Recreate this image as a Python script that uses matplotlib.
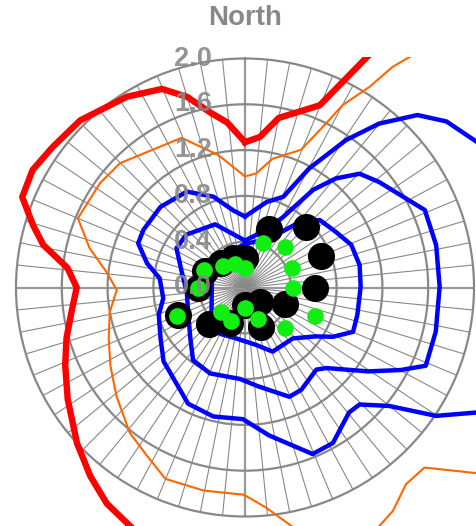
import numpy as np
import matplotlib
matplotlib.use("Agg")
import matplotlib.pyplot as plt
from matplotlib.patches import Rectangle

plt.rcParams['font.family'] = ['Liberation Sans', 'DejaVu Sans']

# ---- data: direction (degrees clockwise from North) and value ----
red_theta = [0, 5.6, 11.25, 22.3, 30, 45, 90, 135, 180, 202.5, 212.6, 219.4, 227.2,
             237.8, 246.7, 254.2, 262, 270, 276.3, 281.9, 286.4, 292.1, 299, 306.2,
             315.4, 328.2, 337.3, 343.1, 348.7, 353.8, 360]
red_value = [1.27, 1.32, 1.51, 1.72, 2.6, 3.0, 3.0, 3.0, 3.0, 2.36, 2.24, 2.13, 2.00,
             1.83, 1.71, 1.62, 1.53, 1.47, 1.56, 1.80, 1.93, 2.10, 2.12, 2.08,
             2.05, 1.96, 1.88, 1.74, 1.56, 1.45, 1.27]

orange_theta = [0, 5.5, 12.1, 22.2, 26.3, 28.2, 31.8, 33.8, 40, 90, 127.4, 135.1, 140.7,
                146.5, 154.4, 166.2, 174.6, 180.3, 191.6, 202.6, 210.3, 218.4, 229.8,
                239.8, 249.6, 259.8, 268.9, 276.5, 284.2, 292.5, 305.7, 314.8, 337,
                348.6, 360]
orange_value = [0.97, 1.00, 1.15, 1.30, 1.60, 1.81, 2.06, 2.32, 3.0, 3.0, 2.69, 2.22, 2.22,
                2.34, 2.45, 2.24, 1.93, 1.81, 1.81, 1.81, 1.70, 1.62, 1.47,
                1.36, 1.27, 1.20, 1.12, 1.22, 1.40, 1.58, 1.56, 1.54, 1.42,
                1.18, 0.97]

blue_outer_theta = [0, 14.2, 22.9, 28.3, 34.4, 39.3, 45, 50.5, 63, 90, 115.8, 123.9, 129.4,
                    135.6, 140.2, 150.5, 157.9, 170.7, 180.9, 193.8, 206.1, 227.8, 239.1,
                    252.4, 262.5, 276.2, 283.8, 292.5, 299.5, 313.6, 328.7, 340.8, 351.4, 360]
blue_outer_value = [0.62, 0.77, 0.86, 1.18, 1.56, 1.85, 2.13, 2.28, 2.50, 2.50, 2.47, 2.01, 1.63,
                    1.43, 1.42, 1.56, 1.57, 1.31, 1.15, 1.16, 1.13, 0.96, 0.86,
                    0.79, 0.72, 0.75, 0.88, 1.01, 1.02, 1.02, 0.98, 0.84, 0.68, 0.62]

blue_mid_theta = [0, 20.7, 28.4, 34.9, 39.8, 45.2, 51.8, 66.7, 77.5, 89.8, 103, 113.4, 117.9,
                  124.3, 134.7, 139, 151.2, 157.9, 172.5, 183.1, 202.2, 215.6, 227.3, 244.1,
                  265.9, 284, 299.8, 312, 334.7, 360]
blue_mid_value = [0.41, 0.54, 0.70, 1.04, 1.24, 1.41, 1.49, 1.71, 1.71, 1.70, 1.71, 1.72, 1.54,
                  1.30, 1.00, 0.95, 1.02, 1.03, 0.87, 0.80, 0.81, 0.78, 0.65, 0.55,
                  0.51, 0.57, 0.69, 0.69, 0.61, 0.41]

blue_inner_theta = [0, 26.8, 40, 48, 58.5, 68.1, 78.9, 89.6, 103.7, 112.3, 119.3, 124.7,
                    136.8, 156.7, 169.2, 191.3, 208.6, 225.7, 270, 314.2, 337.3, 360]
blue_inner_value = [0.38, 0.48, 0.75, 0.88, 0.93, 1.00, 1.02, 1.01, 1.01, 1.02, 0.88, 0.75,
                    0.61, 0.61, 0.51, 0.45, 0.46, 0.41, 0.29, 0.39, 0.34, 0.38]

point_dirs = [0, 22.5, 45, 67.5, 90, 112.5, 135, 157.5, 180, 202.5, 225, 247.5, 270, 292.5,
              315, 337.5]
black_value = [0.26, 0.55, 0.75, 0.72, 0.61, 0.38, 0.18, 0.37, 0.15, 0.34, 0.45, 0.63, 0.41,
               0.38, 0.30, 0.28]
green_value = [0.17, 0.42, 0.50, 0.44, 0.42, 0.66, 0.50, 0.30, 0.18, 0.32, 0.30, 0.64, 0.41,
               0.39, 0.27, 0.22]

ring_values = [0.0, 0.4, 0.8, 1.2, 1.6, 2.0]

# ---- figure ----
W, H = 476, 526
fig = plt.figure(figsize=(W / 100, H / 100), dpi=100)
cx, cy, R = 245, 287.5, 229
ax = fig.add_axes([(cx - R) / W, (H - cy - R) / H, 2 * R / W, 2 * R / H], projection='polar')
ax.set_theta_zero_location('N')
ax.set_theta_direction(-1)
ax.set_ylim(0, 2.0)

grey = '#888888'
ax.set_thetagrids(np.arange(0, 360, 5.625), labels=[])
ax.set_rgrids([0.4, 0.8, 1.2, 1.6], labels=[])
ax.tick_params(length=0)
ax.xaxis.grid(True, color=grey, linewidth=0.8)
ax.yaxis.grid(True, color=grey, linewidth=1.6)
for i, gl in enumerate(ax.xaxis.get_gridlines()):
    if i % 16 == 0:
        gl.set_linewidth(1.6)
        gl.set_color('#999999')
ax.spines['polar'].set_color(grey)
ax.spines['polar'].set_linewidth(1.6)
ax.set_facecolor('white')

clip_rect = Rectangle((0, 0), 1, 1 - 57 / H, transform=fig.transFigure,
                      facecolor='none', edgecolor='none')


def series(theta, value, color, lw, z):
    line, = ax.plot(np.radians(theta), value, color=color, linewidth=lw,
                    solid_joinstyle='round', zorder=z)
    line.set_clip_path(clip_rect)
    return line


series(red_theta, red_value, '#ff0000', 4.6, 3)
series(orange_theta, orange_value, '#ff6600', 1.5, 3)
series(blue_outer_theta, blue_outer_value, '#0000ff', 3.2, 3)
series(blue_mid_theta, blue_mid_value, '#0000ff', 3.2, 3)
series(blue_inner_theta, blue_inner_value, '#0000ff', 3.2, 3)

ax.plot(np.radians(point_dirs), black_value, 'o', color='black', markersize=19.5,
        markeredgewidth=0, linestyle='none', zorder=5)
ax.plot(np.radians(point_dirs), green_value, 'o', color='#11ee11', markersize=12,
        markeredgewidth=0, linestyle='none', zorder=6)

for v in ring_values:
    ax.annotate(f'{v:.1f}', xy=(0, v), xytext=(-33, 0), textcoords='offset pixels',
                ha='right', va='center', fontsize=19.5, fontweight='bold', color=grey,
                alpha=0.9, annotation_clip=False, zorder=10)

fig.text(cx / W, 1 - 18 / H, 'North', ha='center', va='center', fontsize=20,
         fontweight='bold', color=grey)

fig.savefig('out.png', dpi=100)
